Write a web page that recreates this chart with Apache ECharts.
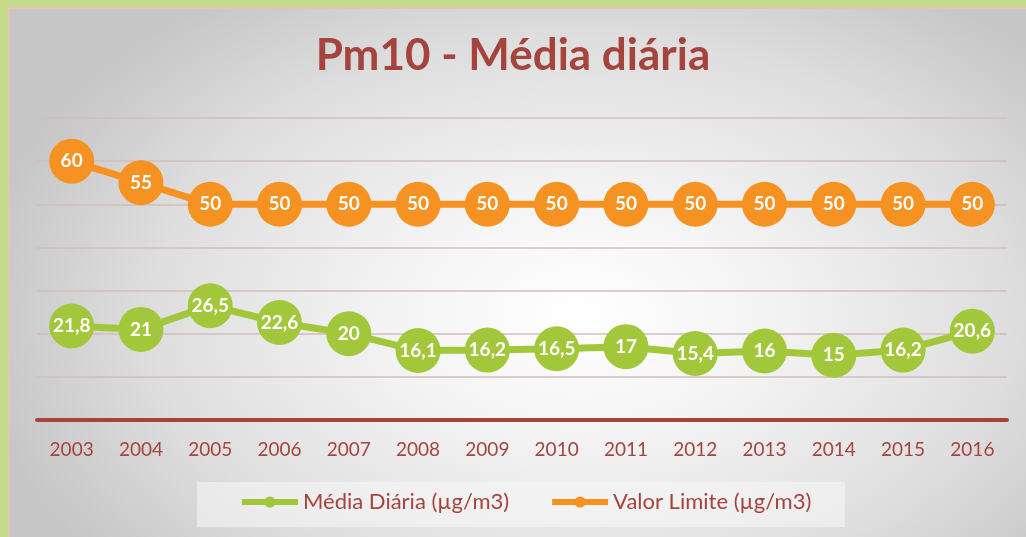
<!DOCTYPE html>
<html>
<head>
<meta charset="utf-8">
<script src="https://cdn.jsdelivr.net/npm/echarts@6/dist/echarts.min.js"></script>
<style>
  html, body { margin: 0; padding: 0; }
  #frame { position: absolute; left: 0; top: 0; width: 1026px; height: 537px; background: #c4d98a; }
  #panel {
    position: absolute; left: 8px; top: 7px; width: 1018px; height: 530px;
    border-left: 2px solid #e7c2b6; border-top: 2px solid #e7c2b6; box-sizing: border-box;
    background: radial-gradient(ellipse 60% 75% at 56% 58%, #ffffff 0%, #f4f4f4 30%, #dedede 70%, #c6c6c6 100%);
  }
  #chart { position: absolute; left: 0; top: 0; width: 1026px; height: 537px; }
</style>
</head>
<body>
<div id="frame"></div>
<div id="panel"></div>
<div id="chart"></div>
<script>
  // years on the x axis
  const years = ['2003', '2004', '2005', '2006', '2007', '2008', '2009', '2010', '2011', '2012', '2013', '2014', '2015', '2016'];
  // Média Diária (µg/m3)
  const mediaDiaria = [21.8, 21, 26.5, 22.6, 20, 16.1, 16.2, 16.5, 17, 15.4, 16, 15, 16.2, 20.6];
  // Valor Limite (µg/m3)
  const valorLimite = [60, 55, 50, 50, 50, 50, 50, 50, 50, 50, 50, 50, 50, 50];

  const red = '#a5433d';
  const green = '#a2c73a';
  const orange = '#f59222';

  const fmt = p => String(p.value).replace('.', ',');

  const chart = echarts.init(document.getElementById('chart'));
  chart.setOption({
    backgroundColor: 'transparent',
    animation: false,
    title: {
      text: 'Pm10 - Média diária',
      left: 'center',
      top: 29,
      textStyle: { fontFamily: 'Lato', fontWeight: 'bold', fontSize: 44, color: red }
    },
    graphic: [{
      type: 'rect',
      shape: { x: 197, y: 482, width: 648, height: 45 },
      style: { fill: 'rgba(248,248,248,0.55)' },
      z: -1
    }],
    legend: {
      left: 239,
      top: 491,
      padding: 0,
      itemGap: 40,
      itemWidth: 56,
      itemHeight: 14,
      lineStyle: { width: 6 },
      textStyle: { fontFamily: 'Lato', fontSize: 22, color: red },
      data: ['Média Diária (µg/m3)', 'Valor Limite (µg/m3)']
    },
    grid: { left: 37, right: 19, top: 118, bottom: 117 },
    xAxis: {
      type: 'category',
      data: years,
      axisLine: { lineStyle: { color: red, width: 4 } },
      axisTick: { show: false },
      axisLabel: { color: red, fontFamily: 'Lato', fontSize: 19, margin: 20 }
    },
    yAxis: {
      type: 'value',
      min: 0,
      max: 70,
      interval: 10,
      axisLine: { show: false },
      axisTick: { show: false },
      axisLabel: { show: false },
      splitLine: { lineStyle: { color: '#d2bcbc', width: 1.5 } }
    },
    series: [{
      name: 'Média Diária (µg/m3)',
      type: 'line',
      data: mediaDiaria,
      symbol: 'circle',
      symbolSize: 45,
      lineStyle: { color: green, width: 7 },
      itemStyle: { color: green },
      label: {
        show: true, position: 'inside', formatter: fmt,
        color: '#fff', fontFamily: 'Lato', fontWeight: 'bold', fontSize: 19
      }
    }, {
      name: 'Valor Limite (µg/m3)',
      type: 'line',
      data: valorLimite,
      symbol: 'circle',
      symbolSize: 45,
      lineStyle: { color: orange, width: 7 },
      itemStyle: { color: orange },
      label: {
        show: true, position: 'inside', formatter: fmt,
        color: '#fff', fontFamily: 'Lato', fontWeight: 'bold', fontSize: 19
      }
    }]
  });
</script>
</body>
</html>
